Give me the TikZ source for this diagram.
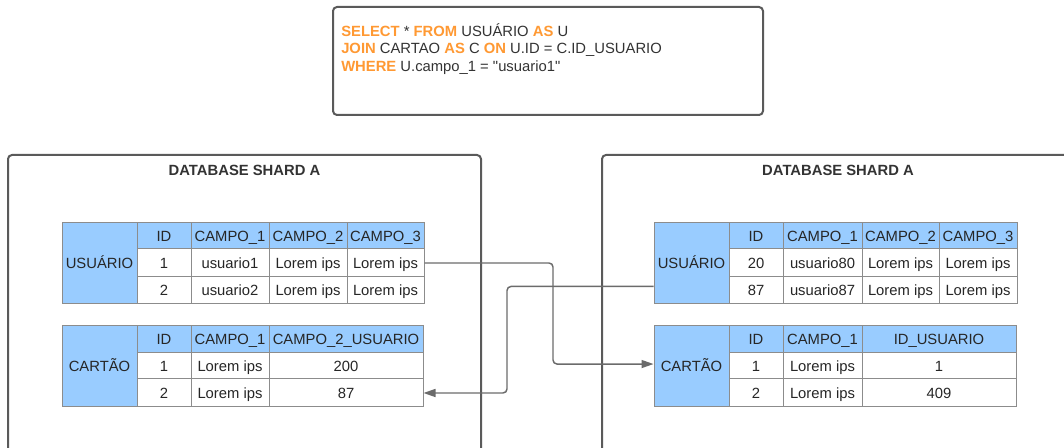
\documentclass[tikz,border=0pt]{standalone}
\usepackage{fontspec}
\setmainfont{Liberation Sans}
\usetikzlibrary{arrows.meta, calc}
\definecolor{sqlOrange}{HTML}{FF9933}
\definecolor{sqlText}{HTML}{333333}
\definecolor{tblBlue}{HTML}{99CCFF}
\definecolor{tblLine}{HTML}{8C8C8C}
\definecolor{boxLine}{HTML}{5A5A5A}
\definecolor{connGrey}{HTML}{6B6B6B}
\newcommand{\tblfont}{\fontsize{11.1}{13}\selectfont}
\newcommand{\sqlkw}[1]{\textcolor{sqlOrange}{\bfseries #1}}
% node spanning the box (x1,y1)-(x2,y2), given in pixels
\newcommand{\cellnode}[7]{%
  \node[#1, minimum width={(#5-#3)*0.75pt}, minimum height={(#6-#4)*0.75pt}]
    (#2) at ({(#3+#5)/2},{(#4+#6)/2}) {#7};}
\tikzset{
  querybox/.style = {draw=boxLine, line width=1.5pt, rounded corners=3pt, fill=white, inner sep=0pt},
  shardbox/.style = {draw=boxLine, line width=1.5pt, rounded corners=3pt, inner sep=0pt},
  cell/.style     = {draw=tblLine, line width=0.75pt, text=black!85, font=\tblfont,
                     inner sep=0pt, text height=8pt, text depth=0pt},
  hcell/.style    = {cell, fill=tblBlue},
  dcell/.style    = {cell, fill=white},
  sqlline/.style  = {anchor=base west, inner sep=0pt, text=sqlText, font=\tblfont},
  shardlbl/.style = {text=sqlText, font=\tblfont\bfseries, inner sep=0pt},
  conn/.style     = {-{Triangle[length=9pt, width=6pt]}, connGrey, line width=1.1pt, rounded corners=3pt},
}

\begin{document}
\begin{tikzpicture}[x=0.75pt, y=-0.75pt]
  \useasboundingbox (0,0) rectangle (1064,448);
  \clip (0,0) rectangle (1064,448);

  % query
  \cellnode{querybox}{query}{333}{7}{763}{115}{}
  \node[sqlline] (q1) at (341,36.3) {\sqlkw{SELECT} * \sqlkw{FROM} USUÁRIO \sqlkw{AS} U};
  \node[sqlline] (q2) at (341,53.7) {\sqlkw{JOIN} CARTAO \sqlkw{AS} C \sqlkw{ON} U.ID = C.ID\_USUARIO};
  \node[sqlline] (q3) at (341,71.2) {\sqlkw{WHERE} U.campo\_1 = \textquotedbl usuario1\textquotedbl};

  % shards
  \cellnode{shardbox}{shardL}{8}{155}{481}{470}{}
  \cellnode{shardbox}{shardR}{602}{155}{1076}{470}{}
  \node[shardlbl] (shardL-title) at (244.5,170) {DATABASE SHARD A};
  \node[shardlbl] (shardR-title) at (838,170) {DATABASE SHARD A};

  % left USUARIO
  \cellnode{hcell}{lu-name}{62}{223}{137}{304}{USUÁRIO}
  \foreach \xa/\xb/\txt [count=\c] in {137/191/ID, 191/269/CAMPO\_1, 269/347/CAMPO\_2, 347/424/CAMPO\_3}
    \cellnode{hcell}{lu-0\c}{\xa}{223}{\xb}{249}{\txt};
  \foreach \xa/\xb/\txt [count=\c] in {137/191/1, 191/269/usuario1, 269/347/Lorem ips, 347/424/Lorem ips}
    \cellnode{dcell}{lu-1\c}{\xa}{249}{\xb}{277}{\txt};
  \foreach \xa/\xb/\txt [count=\c] in {137/191/2, 191/269/usuario2, 269/347/Lorem ips, 347/424/Lorem ips}
    \cellnode{dcell}{lu-2\c}{\xa}{277}{\xb}{304}{\txt};

  % left CARTAO
  \cellnode{hcell}{lc-name}{62}{326}{137}{407}{CARTÃO}
  \foreach \xa/\xb/\txt [count=\c] in {137/191/ID, 191/269/CAMPO\_1, 269/423/CAMPO\_2\_USUARIO}
    \cellnode{hcell}{lc-0\c}{\xa}{326}{\xb}{353}{\txt};
  \foreach \xa/\xb/\txt [count=\c] in {137/191/1, 191/269/Lorem ips, 269/423/200}
    \cellnode{dcell}{lc-1\c}{\xa}{353}{\xb}{379}{\txt};
  \foreach \xa/\xb/\txt [count=\c] in {137/191/2, 191/269/Lorem ips, 269/423/87}
    \cellnode{dcell}{lc-2\c}{\xa}{379}{\xb}{407}{\txt};

  % right USUARIO
  \cellnode{hcell}{ru-name}{654}{223}{729}{304}{USUÁRIO}
  \foreach \xa/\xb/\txt [count=\c] in {729/783/ID, 783/862/CAMPO\_1, 862/939/CAMPO\_2, 939/1017/CAMPO\_3}
    \cellnode{hcell}{ru-0\c}{\xa}{223}{\xb}{249}{\txt};
  \foreach \xa/\xb/\txt [count=\c] in {729/783/20, 783/862/usuario80, 862/939/Lorem ips, 939/1017/Lorem ips}
    \cellnode{dcell}{ru-1\c}{\xa}{249}{\xb}{277}{\txt};
  \foreach \xa/\xb/\txt [count=\c] in {729/783/87, 783/862/usuario87, 862/939/Lorem ips, 939/1017/Lorem ips}
    \cellnode{dcell}{ru-2\c}{\xa}{277}{\xb}{304}{\txt};

  % right CARTAO
  \cellnode{hcell}{rc-name}{654}{326}{729}{407}{CARTÃO}
  \foreach \xa/\xb/\txt [count=\c] in {729/783/ID, 783/862/CAMPO\_1, 862/1016/ID\_USUARIO}
    \cellnode{hcell}{rc-0\c}{\xa}{326}{\xb}{353}{\txt};
  \foreach \xa/\xb/\txt [count=\c] in {729/783/1, 783/862/Lorem ips, 862/1016/1}
    \cellnode{dcell}{rc-1\c}{\xa}{353}{\xb}{379}{\txt};
  \foreach \xa/\xb/\txt [count=\c] in {729/783/2, 783/862/Lorem ips, 862/1016/409}
    \cellnode{dcell}{rc-2\c}{\xa}{379}{\xb}{407}{\txt};

  % joins
  \coordinate (bendA) at (553,0);
  \coordinate (bendB) at (507,0);
  \coordinate (ru-out) at ($(ru-name.north west)!0.78!(ru-name.south west)$);
  \coordinate (rc-in) at ($(rc-name.north west)!0.47!(rc-name.south west)$);
  \draw[conn] (lu-14.east) -- (lu-14.east -| bendA) |- (rc-in);
  \draw[conn] (ru-out) -- (ru-out -| bendB) |- (lc-23.east);
\end{tikzpicture}
\end{document}
